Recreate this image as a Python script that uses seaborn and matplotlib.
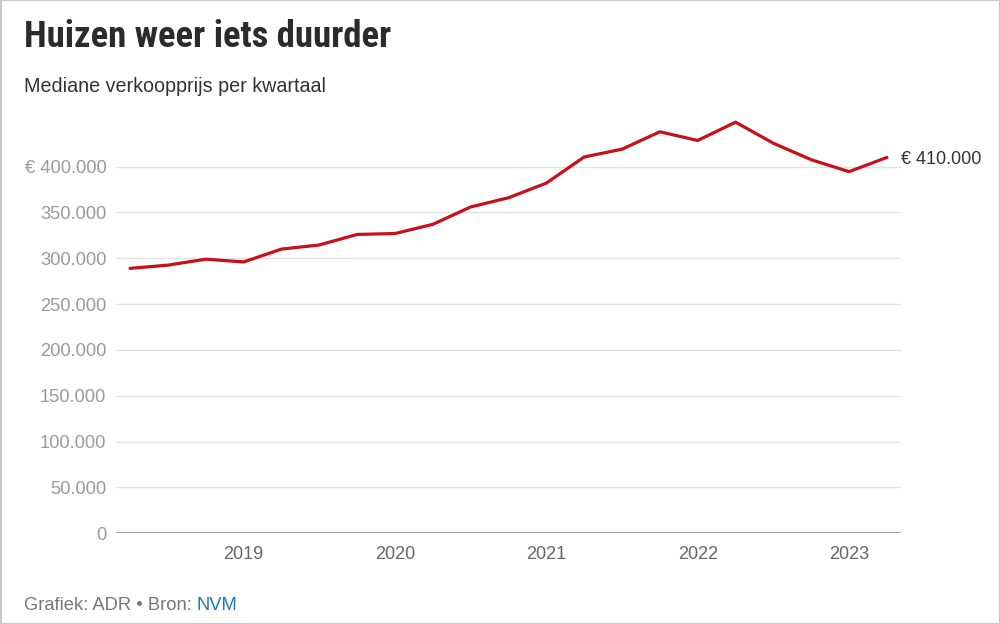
import matplotlib
matplotlib.use("Agg")
import matplotlib.pyplot as plt
from matplotlib import font_manager
import seaborn as sns
import pandas as pd
from matplotlib.patches import Rectangle

# ---- data ----
quarters = [2018.25, 2018.5, 2018.75, 2019.0, 2019.25, 2019.5, 2019.75,
            2020.0, 2020.25, 2020.5, 2020.75, 2021.0, 2021.25, 2021.5,
            2021.75, 2022.0, 2022.25, 2022.5, 2022.75, 2023.0, 2023.25]
prices = [289000, 292500, 299000, 296000, 310000, 314500, 326000,
          327000, 337000, 356000, 366000, 382000, 410500, 419000,
          438000, 428500, 448500, 425500, 407500, 394500, 410000]
year_ticks = [2019, 2020, 2021, 2022, 2023]
year_labels = ["2019", "2020", "2021", "2022", "2023"]
y_ticks = [0, 50000, 100000, 150000, 200000, 250000, 300000, 350000, 400000]
y_labels = ["0", "50.000", "100.000", "150.000", "200.000", "250.000",
            "300.000", "350.000", "€ 400.000"]
end_label = "€ 410.000"
title = "Huizen weer iets duurder"
subtitle = "Mediane verkoopprijs per kwartaal"
footer_a = "Grafiek: ADR • Bron: "
footer_b = "NVM"

df = pd.DataFrame({"kwartaal": quarters, "prijs": prices})

sns.set_theme(style="white")
plt.rcParams['font.family'] = ['Liberation Sans', 'DejaVu Sans']

# pick a condensed bold face for the title if one is installed
fonts = font_manager.fontManager.ttflist
title_kw = dict(family=['Liberation Sans', 'DejaVu Sans'], fontsize=22)
narrow_names = ['Liberation Sans Narrow', 'Roboto Condensed',
                'Open Sans Condensed', 'DejaVu Sans Condensed',
                'Noto Sans Condensed']
names = {f.name for f in fonts}
found = [n for n in narrow_names if n in names]
if found:
    title_kw = dict(family=[found[0], 'DejaVu Sans'], fontsize=26.5)
elif any(f.name == 'DejaVu Sans' and f.stretch == 'condensed' for f in fonts):
    title_kw = dict(family=['DejaVu Sans'], fontstretch='condensed',
                    fontsize=22)
elif any(f.name == 'Noto Sans' and f.stretch in ('condensed', 'semi-condensed')
         for f in fonts):
    title_kw = dict(family=['Noto Sans'], fontstretch='condensed',
                    fontsize=23)

fig = plt.figure(figsize=(10, 6.24), dpi=100)
ax = fig.add_axes([0.116, 0.1454, 0.785, 0.6944])

sns.lineplot(data=df, x="kwartaal", y="prijs", ax=ax, color="#c8101a",
             linewidth=2.3, legend=False)

ax.set_xlim(2018.157, 2023.343)
ax.set_ylim(0, 472700)
ax.set_yticks(y_ticks)
ax.set_yticklabels(y_labels)
ax.set_xticks(year_ticks)
ax.set_xticklabels(year_labels)
ax.set_xlabel("")
ax.set_ylabel("")

for v in y_ticks[1:]:
    ax.axhline(v, color="#e2e2e2", linewidth=1.0, zorder=0)
ax.axhline(0, color="#888888", linewidth=1.8, zorder=1)

for s in ax.spines.values():
    s.set_visible(False)
ax.tick_params(axis="y", length=0, pad=7, labelsize=13.2, labelcolor="#9a9a9a")
ax.tick_params(axis="x", length=0, pad=9, labelsize=13, labelcolor="#666666")

ax.annotate(end_label, xy=(quarters[-1], prices[-1]), xytext=(10, -1.5),
            textcoords="offset points", va="center", ha="left",
            fontsize=13, color="#333333", annotation_clip=False)

fig.text(0.024, 0.9247, title, fontweight="bold", color="#2b2b2b",
         va="baseline", **title_kw)
fig.text(0.024, 0.853, subtitle, fontsize=14.2, color="#333333",
         va="baseline")

fy = 1 - 610.5 / 624
t = fig.text(0.024, fy, footer_a, fontsize=13.2, color="#777777",
             va="baseline")
fig.canvas.draw()
bb = t.get_window_extent(renderer=fig.canvas.get_renderer())
fig.text(bb.x1 / fig.bbox.width, fy, footer_b, fontsize=13.2,
         color="#1a78c2", va="baseline")

fig.patches.append(Rectangle((0.0005, 0.0008), 0.999, 0.9984,
                             transform=fig.transFigure, fill=False,
                             edgecolor="#c8c8c8", linewidth=1.5))

fig.savefig("out.png", dpi=100, facecolor="white")
